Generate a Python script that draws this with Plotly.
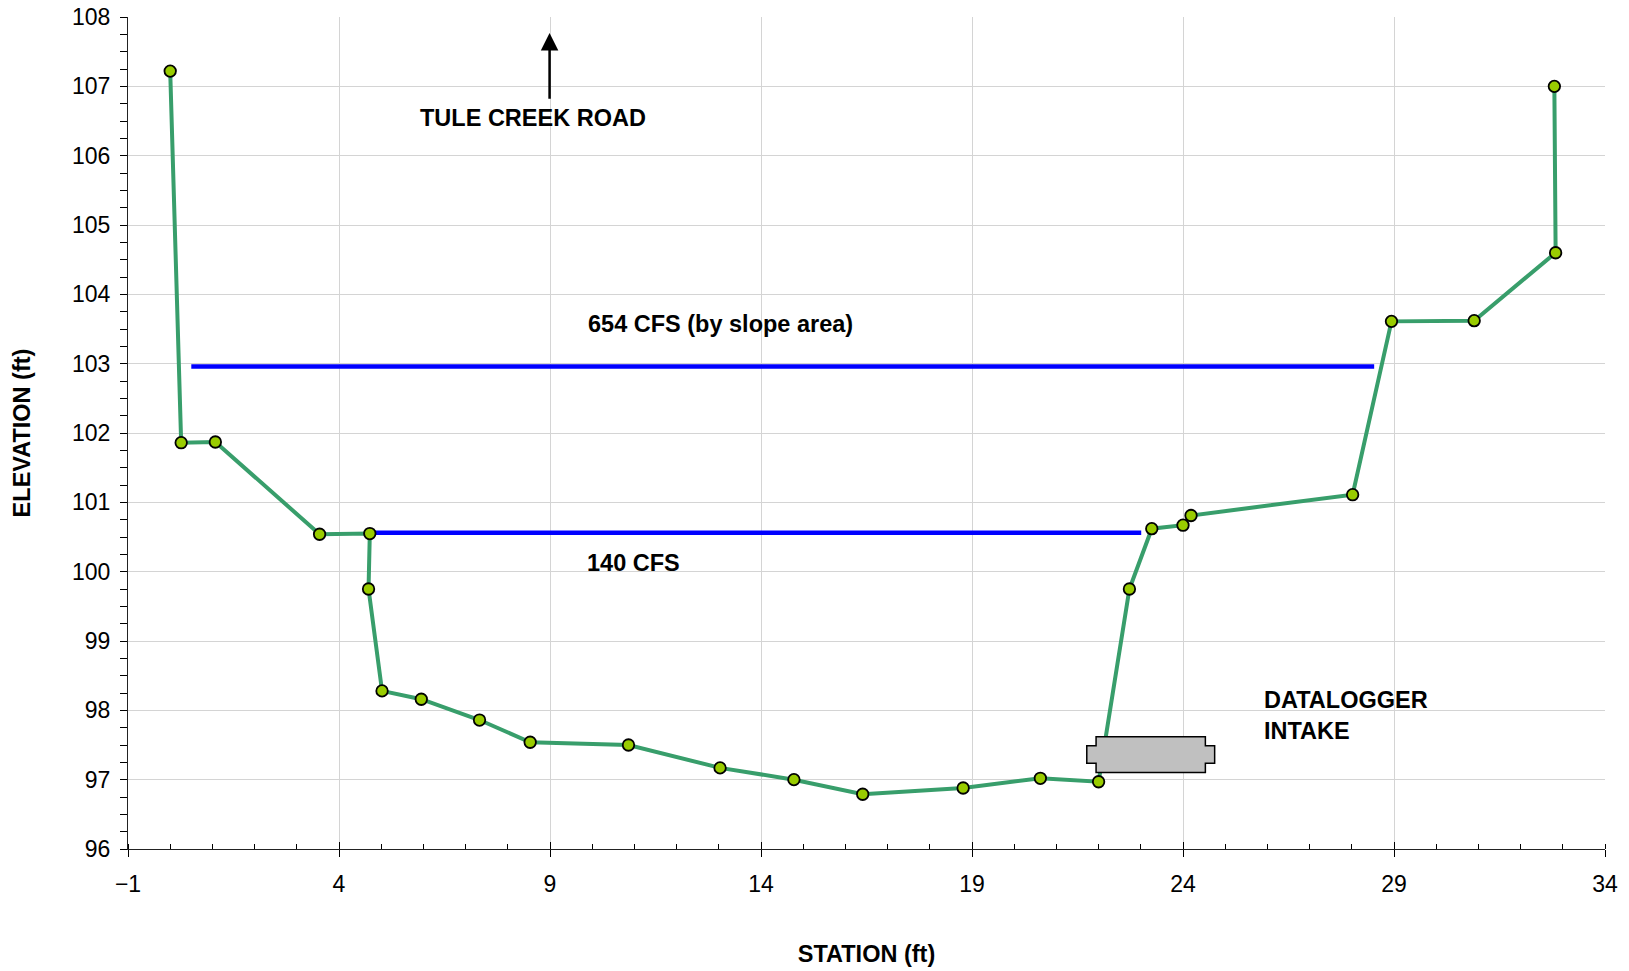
import plotly.graph_objects as go

# Cross-section survey points
station = [0.0, 0.26, 1.07, 3.54, 4.73, 4.70, 5.02, 5.95, 7.33, 8.53, 10.86, 13.03,
           14.78, 16.41, 18.79, 20.62, 22.0, 22.73, 23.26, 24.0, 24.19, 28.02, 28.94,
           30.90, 32.83, 32.80]
elevation = [107.22, 101.86, 101.87, 100.54, 100.55, 99.75, 98.28, 98.16, 97.86, 97.54,
             97.50, 97.17, 97.00, 96.79, 96.88, 97.02, 96.97, 99.75, 100.62, 100.67,
             100.81, 101.11, 103.61, 103.62, 104.60, 107.00]

# Water surface lines
ws654_x = [0.50, 28.53]
ws654_y = [102.96, 102.96]
ws140_x = [4.73, 23.01]
ws140_y = [100.56, 100.56]

FONT = "Liberation Sans, Arial, sans-serif"
GREEN = "#389e6b"

fig = go.Figure()

fig.add_trace(go.Scatter(x=ws654_x, y=ws654_y, mode="lines",
                         line=dict(color="#0000ff", width=4.5), hoverinfo="skip", showlegend=False))
fig.add_trace(go.Scatter(x=ws140_x, y=ws140_y, mode="lines",
                         line=dict(color="#0000ff", width=4.5), hoverinfo="skip", showlegend=False))
fig.add_trace(go.Scatter(x=station, y=elevation, mode="lines+markers",
                         line=dict(color=GREEN, width=4),
                         marker=dict(size=11.5, color="#99cc00", line=dict(color="black", width=1.8)),
                         showlegend=False))
# invisible trace for the overlay axis (inside half of major x ticks)
fig.add_trace(go.Scatter(x=[-1], y=[96], xaxis="x2", mode="markers",
                         marker=dict(opacity=0), hoverinfo="skip", showlegend=False))

# Datalogger intake symbol (grey plate)
xa, xb, xc, xd = 21.72, 21.94, 24.53, 24.75
ya, yb, yc, yd = 97.62, 97.49, 97.235, 97.105
path = (f"M {xb},{ya} L {xc},{ya} L {xc},{yb} L {xd},{yb} L {xd},{yc} L {xc},{yc} "
        f"L {xc},{yd} L {xb},{yd} L {xb},{yc} L {xa},{yc} L {xa},{yb} L {xb},{yb} Z")
fig.add_shape(type="path", path=path, xref="x", yref="y", layer="above",
              fillcolor="#c0c0c0", line=dict(color="black", width=1.5))

bold = dict(family=FONT, size=23.5, color="black")
fig.add_annotation(x=8.60, y=106.55, text="<b>TULE CREEK ROAD</b>", showarrow=False, font=bold)
fig.add_annotation(x=8.99, y=107.77, ax=8.99, ay=106.80, xref="x", yref="y", axref="x", ayref="y",
                   text="", showarrow=True, arrowhead=2, arrowsize=1.4, arrowwidth=2.5,
                   arrowcolor="black")
fig.add_annotation(x=13.05, y=103.57, text="<b>654 CFS (by slope area)</b>", showarrow=False, font=bold)
fig.add_annotation(x=10.97, y=100.12, text="<b>140 CFS</b>", showarrow=False, font=bold)
fig.add_annotation(x=25.87, y=97.93, text="<b>DATALOGGER<br>INTAKE</b>", showarrow=False,
                   xanchor="left", align="left", font=bold)

fig.update_layout(
    width=1629, height=971, autosize=False,
    margin=dict(l=128, r=24, t=17, b=122),
    paper_bgcolor="white", plot_bgcolor="white",
    font=dict(family=FONT, color="black"),
    xaxis=dict(range=[-1, 34], tick0=-1, dtick=5, showgrid=True, gridcolor="#d4d4d4", gridwidth=1,
               zeroline=False, showline=True, linecolor="#222222", linewidth=1.2,
               ticks="outside", ticklen=7, tickcolor="black", tickwidth=1,
               tickfont=dict(family=FONT, size=23, color="black"),
               ticklabelstandoff=7, automargin=False,
               minor=dict(ticks="inside", ticklen=5, dtick=1, tick0=-1, tickcolor="black", showgrid=False),
               title=dict(text="<b>STATION (ft)</b>", font=dict(family=FONT, size=23.5, color="black"),
                          standoff=49)),
    xaxis2=dict(range=[-1, 34], overlaying="x", matches="x", anchor="y", side="bottom",
                tick0=-1, dtick=5, ticks="inside", ticklen=7, tickcolor="black",
                showticklabels=False, showgrid=False, zeroline=False, showline=False),
    yaxis=dict(range=[96, 108], dtick=1, showgrid=True, gridcolor="#d4d4d4", gridwidth=1,
               zeroline=False, showline=True, linecolor="#222222", linewidth=1.2,
               ticks="outside", ticklen=7, tickcolor="black", tickwidth=1,
               tickfont=dict(family=FONT, size=23, color="black"),
               ticklabelstandoff=5, automargin=False,
               minor=dict(ticks="outside", ticklen=7, dtick=0.25, tickcolor="black", showgrid=False),
               title=dict(text="<b>ELEVATION (ft)</b>", font=dict(family=FONT, size=23.5, color="black"),
                          standoff=34)),
)

fig.write_html("out.html", config={"displayModeBar": False},
               post_script="document.body.style.margin='0';document.body.style.overflow='hidden';")
